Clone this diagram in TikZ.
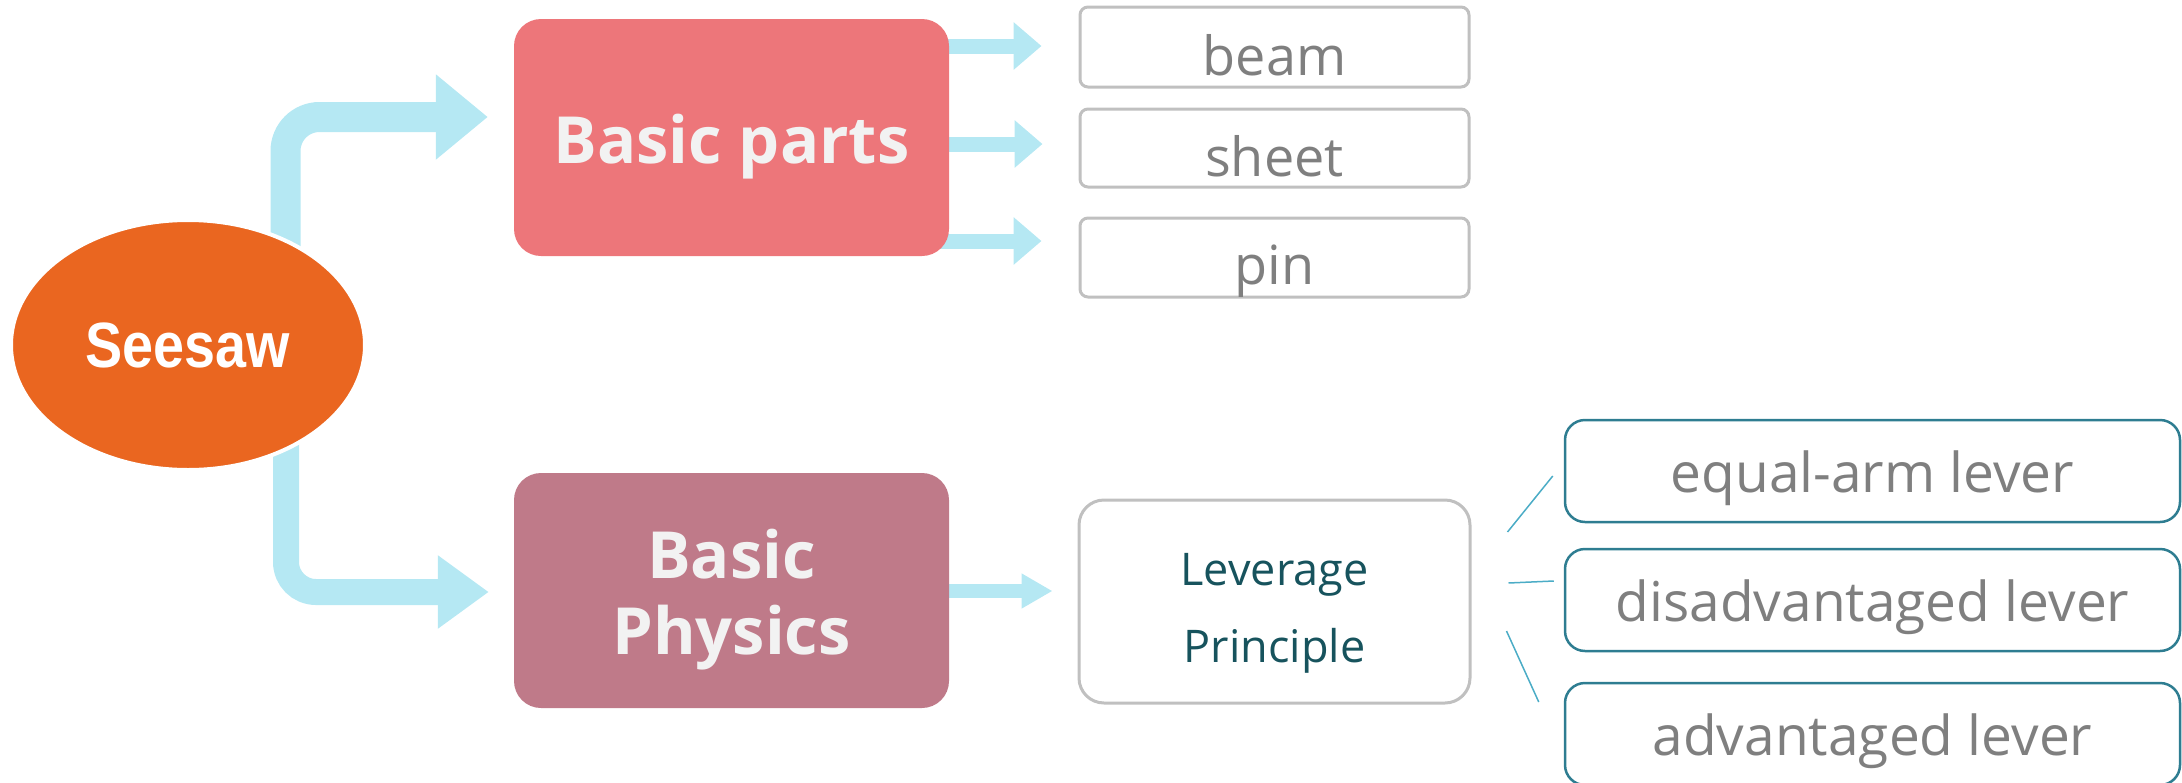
\documentclass[tikz,border=0pt]{standalone}
\usepackage{fontspec}
\setmainfont{Open Sans}
\newfontfamily\seefont{Liberation Sans}[FakeStretch=0.87]
\usetikzlibrary{arrows.meta,shapes.geometric,calc,backgrounds}
\definecolor{orangeE}{HTML}{EA6620}
\definecolor{pinkbox}{HTML}{ED767A}
\definecolor{mauvebox}{HTML}{BF7A89}
\definecolor{lightblue}{HTML}{B5E8F3}
\definecolor{tealborder}{HTML}{2E7D91}
\definecolor{greyborder}{HTML}{C0C0C0}
\definecolor{greytext}{HTML}{7F7F7F}
\definecolor{darkteal}{HTML}{17535D}
\definecolor{thinline}{HTML}{4BACC6}
\definecolor{boxtext}{HTML}{F2F2F2}
\begin{document}
\begin{tikzpicture}[x=1pt,y=-1pt,
  mainbox/.style={rectangle, rounded corners=27pt, inner sep=0pt, minimum width=435pt,
    text=boxtext, font=\fontsize{65}{76}\selectfont\bfseries, align=center},
  partbox/.style={rectangle, rounded corners=8pt, draw=greyborder, line width=3pt, fill=white,
    inner sep=0pt, minimum width=389pt, text=greytext, font=\fontsize{54}{60}\selectfont},
  leverbox/.style={rectangle, rounded corners=20pt, draw=tealborder, line width=2.5pt, fill=white,
    inner sep=0pt, minimum width=615pt, minimum height=102pt, text height=72pt, text depth=30pt,
    text=greytext, font=\fontsize{55}{60}\selectfont},
  bigarrow/.style={draw=lightblue, line cap=butt},
  smallarrow/.style={draw=lightblue, line width=15pt, -{Triangle[length=28pt,width=46pt]}, lightblue},
  thin/.style={draw=thinline, line width=1.5pt}
]
\useasboundingbox (0,0) rectangle (2182,782);

% nodes
\node[ellipse, minimum width=354pt, minimum height=250pt, inner sep=0pt, fill=orangeE,
      draw=white, line width=4pt, text=white, font=\seefont\fontsize{64}{70}\selectfont\bfseries]
      (see) at (188,345) {Seesaw};
\node[mainbox, fill=pinkbox, minimum height=237pt, text height=144pt, text depth=93pt]
      (bp) at (731.5,137.5) {Basic parts};
\node[mainbox, fill=mauvebox, minimum height=235pt, text height=143pt, text depth=16pt]
      (phys) at (731.5,590.5) {Basic\\Physics};

\node[partbox, minimum height=80pt, text height=68pt, text depth=12pt] (beam) at (1274.5,47) {beam};
\node[partbox, minimum height=78pt, text height=67pt, text depth=11pt] (sheet) at (1274.5,148) {sheet};
\node[partbox, minimum height=79pt, text height=66pt, text depth=13pt] (pin) at (1274.5,257.5) {pin};

\node[rectangle, rounded corners=25pt, draw=greyborder, line width=3pt, fill=white, inner sep=0pt,
      minimum width=391pt, minimum height=203pt, text height=132pt, text depth=11pt,
      text=darkteal, font=\fontsize{45}{77}\selectfont, align=center]
      (lev) at (1274.5,601.5) {Leverage\\Principle};

\node[leverbox] (eq) at (1872.5,471) {equal-arm lever};
\node[leverbox] (dis) at (1872.5,600) {disadvantaged lever};
\node[leverbox] (adv) at (1872.5,734) {advantaged lever};

% connectors
\begin{scope}[on background layer]
\draw[bigarrow, line width=30pt, rounded corners=34pt, -{Triangle[length=52pt,width=82pt]}, lightblue]
  ($(see.center)+(97.5,0)$) |- ($(bp.west)+(-26,-20.5)$);
\draw[bigarrow, line width=26pt, rounded corners=30pt, -{Triangle[length=51pt,width=70pt]}, lightblue]
  ($(see.center)+(98,0)$) |- ($(phys.west)+(-25,1.5)$);
\draw[smallarrow] ($(bp.east|-beam.west)+(-10,-1)$) -- ($(beam.west)+(-37,-1)$);
\draw[smallarrow] ($(bp.east|-sheet.west)+(-10,-4)$) -- ($(sheet.west)+(-36,-4)$);
\draw[smallarrow] ($(bp.east|-pin.west)+(-10,-16.5)$) -- ($(pin.west)+(-37,-16.5)$);
\draw[draw=lightblue, line width=14pt, -{Triangle[length=31pt,width=33pt]}, lightblue]
  ($(phys.east)+(-10,0.5)$) -- ($(lev.west)+(-25,-10.5)$);
\end{scope}

\draw[thin] ($(lev.east)+(36,-69.5)$) -- ($(eq.west)+(-11,5)$);
\draw[thin] ($(lev.east)+(37,-18.5)$) -- ($(dis.west)+(-10,-19)$);
\draw[thin] ($(lev.east)+(35,29.5)$) -- ($(adv.west)+(-25,-32)$);
\end{tikzpicture}
\end{document}
